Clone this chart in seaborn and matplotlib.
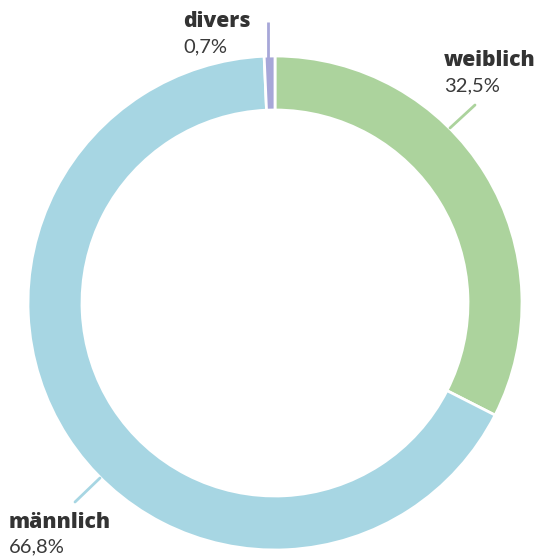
import matplotlib
matplotlib.use("Agg")
import matplotlib.pyplot as plt
import seaborn as sns

# Gender shares (percent), clockwise from 12 o'clock
categories = ["weiblich", "männlich", "divers"]
shares = [32.5, 66.8, 0.7]
value_labels = ["32,5%", "66,8%", "0,7%"]
colors = ["#acd39d", "#a7d6e3", "#a7a7d8"]

sns.set_theme(style="white")
plt.rcParams["font.family"] = ["Lato", "DejaVu Sans"]

W, H = 538, 558
fig = plt.figure(figsize=(W / 100, H / 100), dpi=100)
ax = fig.add_axes([0, 0, 1, 1])

cx, cy = 275, H - 303
R_out, ring = 247, 54

ax.pie(shares, colors=colors, startangle=90, counterclock=False,
       center=(cx, cy), radius=R_out, frame=True,
       wedgeprops=dict(width=ring, edgecolor="white", linewidth=2))
ax.set_xlim(0, W)
ax.set_ylim(0, H)
ax.set_aspect("equal")
ax.axis("off")

text_color = "#333333"

def label(name, value, x, y_name, y_value):
    ax.text(x, H - y_name, name, fontsize=15.2, fontweight="heavy",
            family=["Open Sans", "DejaVu Sans"],
            color=text_color, ha="left", va="baseline")
    ax.text(x, H - y_value, value, fontsize=14.5, color="#3a3a3a",
            ha="left", va="baseline")

# leader lines
ax.plot([268, 268], [H - 22, H - 62], color=colors[2], lw=2, solid_capstyle="butt")
ax.plot([450, 475], [H - 128, H - 105], color=colors[0], lw=2)
ax.plot([100, 75], [H - 478, H - 502], color=colors[1], lw=2)

label(categories[2], value_labels[2], 183, 27, 52)
label(categories[0], value_labels[0], 444, 66, 91)
label(categories[1], value_labels[1], 9, 528, 552)

fig.savefig("out.png", dpi=100)
